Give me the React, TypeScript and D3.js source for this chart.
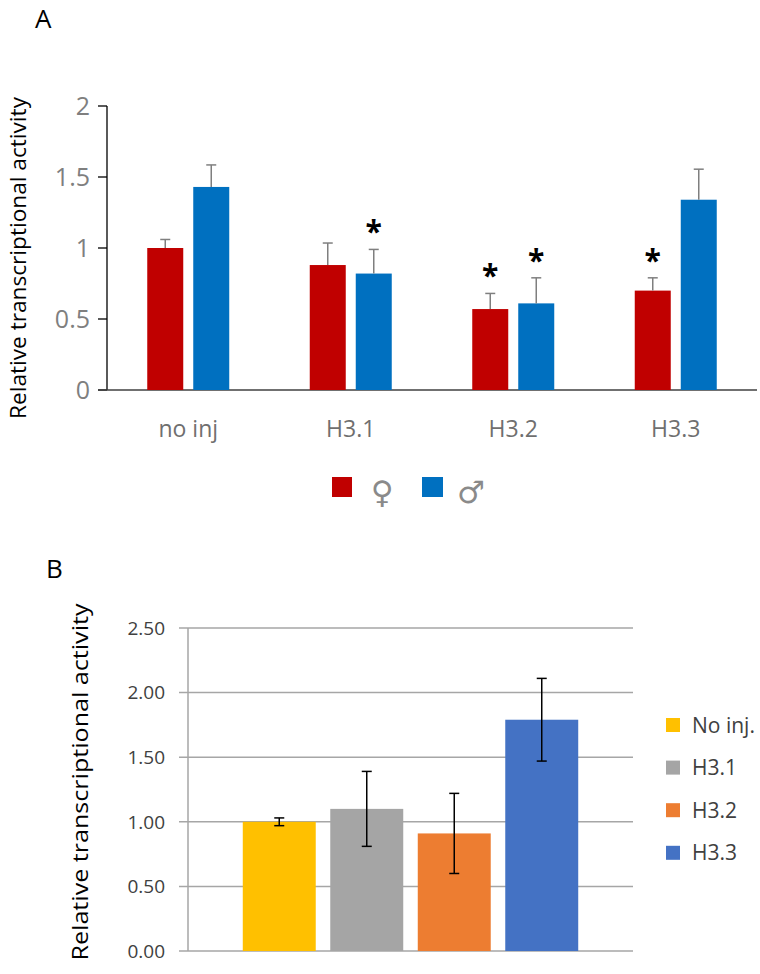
import React from "react";
import * as d3 from "d3";

// Panel A data
const groupsA = ["no inj", "H3.1", "H3.2", "H3.3"];
const female = [1.0, 0.88, 0.57, 0.7];
const femaleErr = [0.06, 0.155, 0.11, 0.09];
const male = [1.43, 0.82, 0.61, 1.34];
const maleErr = [0.155, 0.17, 0.18, 0.215];
const femaleSig = [false, false, true, true];
const maleSig = [false, true, true, false];
const ticksA = [0, 0.5, 1, 1.5, 2];

// Panel B data
const groupsB = ["No inj.", "H3.1", "H3.2", "H3.3"];
const valuesB = [1.0, 1.1, 0.91, 1.79];
const errB = [0.03, 0.29, 0.31, 0.32];
const ticksB = [0, 0.5, 1, 1.5, 2, 2.5];
const colorsB = ["#FFC000", "#A5A5A5", "#ED7D31", "#4472C4"];

const FONT = "'Open Sans', 'Noto Sans', sans-serif";
const RED = "#C00000";
const BLUE = "#0070C0";

const PanelA: React.FC = () => {
  const y = d3.scaleLinear().domain([0, 2]).range([390, 106]);
  const x = d3.scaleBand<string>().domain(groupsA).range([107, 757]);
  const inner = d3
    .scaleBand<string>()
    .domain(["f", "m"])
    .range([0, 82])
    .paddingInner(10 / 46);
  const groupStart = (g: string) => (x(g) ?? 0) + x.bandwidth() / 2 - 41;

  const series = [
    { key: "f", vals: female, errs: femaleErr, sig: femaleSig, color: RED },
    { key: "m", vals: male, errs: maleErr, sig: maleSig, color: BLUE },
  ];

  return (
    <g>
      <text x={35} y={28} fontFamily={FONT} fontSize={26} fill="#000">
        A
      </text>
      <text
        transform="translate(26, 258) rotate(-90)"
        textAnchor="middle"
        fontFamily={FONT}
        fontSize={21}
        textLength={322}
        lengthAdjust="spacingAndGlyphs"
        fill="#000"
      >
        Relative transcriptional activity
      </text>
      {/* y axis */}
      <line x1={107} x2={107} y1={y(2)} y2={y(0)} stroke="#000" strokeWidth={1.3} />
      {ticksA.map((t) => (
        <g key={t}>
          <line x1={98} x2={107} y1={y(t)} y2={y(t)} stroke="#000" strokeWidth={1.3} />
          <text
            x={90}
            y={y(t)}
            dy="0.36em"
            textAnchor="end"
            fontFamily={FONT}
            fontSize={25}
            fill="#7f7f7f"
          >
            {t}
          </text>
        </g>
      ))}
      <line x1={98} x2={757} y1={y(0)} y2={y(0)} stroke="#404040" strokeWidth={1.5} />
      {series.map((s) =>
        groupsA.map((g, i) => {
          const bx = groupStart(g) + (inner(s.key) ?? 0);
          const cx = bx + inner.bandwidth() / 2;
          const top = y(s.vals[i]);
          const cap = y(s.vals[i] + s.errs[i]);
          return (
            <g key={s.key + g}>
              <rect
                x={bx}
                y={top}
                width={inner.bandwidth()}
                height={y(0) - top}
                fill={s.color}
              />
              <line x1={cx} x2={cx} y1={top} y2={cap} stroke="#7f7f7f" strokeWidth={1.5} />
              <line x1={cx - 5} x2={cx + 5} y1={cap} y2={cap} stroke="#7f7f7f" strokeWidth={1.5} />
              {s.sig[i] && (
                <text
                  x={cx}
                  y={cap - 7}
                  textAnchor="middle"
                  fontFamily={FONT}
                  fontWeight="bold"
                  fontSize={30}
                  fill="#000"
                >
                  *
                </text>
              )}
            </g>
          );
        })
      )}
      {groupsA.map((g) => (
        <text
          key={g}
          x={(x(g) ?? 0) + x.bandwidth() / 2}
          y={437}
          textAnchor="middle"
          fontFamily={FONT}
          fontSize={23}
          fill="#6f6f6f"
        >
          {g}
        </text>
      ))}
      {/* legend */}
      <rect x={332} y={477} width={20} height={20} fill={RED} />
      <text
        x={382}
        y={503}
        textAnchor="middle"
        fontFamily="'DejaVu Sans', sans-serif"
        fontSize={31}
        fill="#8a8a8a"
      >
        ♀
      </text>
      <rect x={422} y={477} width={21} height={20} fill={BLUE} />
      <text
        x={471}
        y={503}
        textAnchor="middle"
        fontFamily="'DejaVu Sans', sans-serif"
        fontSize={31}
        fill="#8a8a8a"
      >
        ♂
      </text>
    </g>
  );
};

const PanelB: React.FC = () => {
  const y = d3.scaleLinear().domain([0, 2.5]).range([951, 628]);
  const x = d3
    .scaleBand<string>()
    .domain(groupsB)
    .range([188, 633])
    .paddingInner(0.166)
    .paddingOuter(0.626);

  return (
    <g>
      <text x={46} y={578} fontFamily={FONT} fontSize={26} fill="#000">
        B
      </text>
      <text
        transform="translate(88, 782) rotate(-90)"
        textAnchor="middle"
        fontFamily={FONT}
        fontSize={22}
        textLength={357}
        lengthAdjust="spacingAndGlyphs"
        fill="#000"
      >
        Relative transcriptional activity
      </text>
      {ticksB.map((t) => (
        <g key={t}>
          <line x1={179} x2={633} y1={y(t)} y2={y(t)} stroke="#a6a6a6" strokeWidth={1.5} />
          <text
            x={165}
            y={y(t)}
            dy="0.36em"
            textAnchor="end"
            fontFamily={FONT}
            fontSize={19}
            fill="#404040"
          >
            {t.toFixed(2)}
          </text>
        </g>
      ))}
      <line x1={188} x2={188} y1={y(2.5)} y2={y(0)} stroke="#a6a6a6" strokeWidth={1.5} />
      {groupsB.map((g, i) => {
        const bx = x(g) ?? 0;
        const cx = bx + x.bandwidth() / 2;
        const top = y(valuesB[i]);
        const hi = y(valuesB[i] + errB[i]);
        const lo = y(valuesB[i] - errB[i]);
        return (
          <g key={g}>
            <rect x={bx} y={top} width={x.bandwidth()} height={y(0) - top} fill={colorsB[i]} />
            <line x1={cx} x2={cx} y1={hi} y2={lo} stroke="#000" strokeWidth={1.5} />
            <line x1={cx - 5} x2={cx + 5} y1={hi} y2={hi} stroke="#000" strokeWidth={1.5} />
            <line x1={cx - 5} x2={cx + 5} y1={lo} y2={lo} stroke="#000" strokeWidth={1.5} />
          </g>
        );
      })}
      {groupsB.map((g, i) => {
        const cy = 725 + i * 42.6;
        return (
          <g key={"lg" + g}>
            <rect x={666} y={cy - 7} width={14} height={14} fill={colorsB[i]} />
            <text x={692} y={cy} dy="0.36em" fontFamily={FONT} fontSize={21} fill="#404040">
              {g}
            </text>
          </g>
        );
      })}
    </g>
  );
};

const App: React.FC = () => {
  return (
    <div style={{ position: "absolute", left: 0, top: 0, background: "#fff" }}>
      <svg width={760} height={974} style={{ display: "block" }}>
        <rect width={760} height={974} fill="#fff" />
        <PanelA />
        <PanelB />
      </svg>
    </div>
  );
};

export default App;
